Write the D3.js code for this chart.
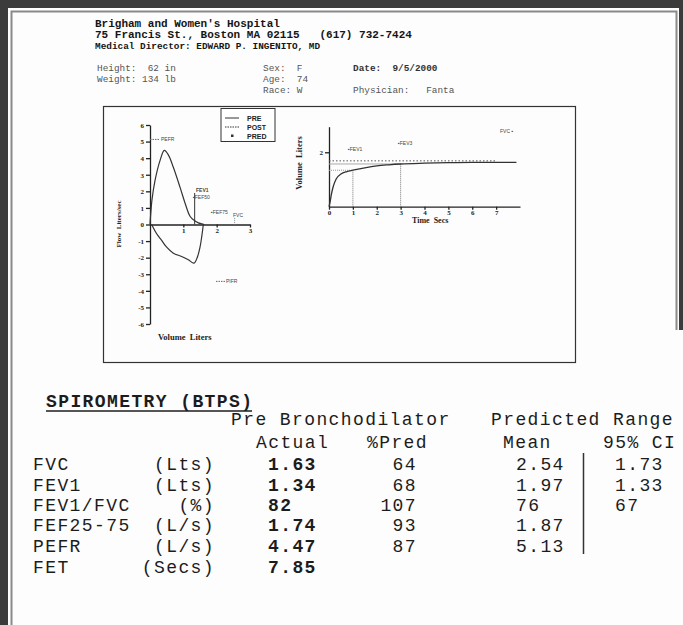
<!DOCTYPE html>
<html>
<head>
<meta charset="utf-8">
<script src="https://cdn.jsdelivr.net/npm/d3@7"></script>
<style>
  body { margin: 0; background: #3b3b3b; }
  svg { display: block; }
</style>
</head>
<body>
<svg id="page" width="683" height="625"></svg>
<script>
// report header
var headerLines = [
  "Brigham and Women's Hospital",
  "75 Francis St., Boston MA 02115   (617) 732-7424",
  "Medical Director: EDWARD P. INGENITO, MD"
];
var infoLeft = ["Height:  62 in", "Weight: 134 lb"];
var infoMid = ["Sex:  F", "Age:  74", "Race: W"];

// flow-volume loop (PRE), volume in liters, flow in L/s
var expVol  = [0, 0.02, 0.06, 0.15, 0.3, 0.43, 0.55, 0.7, 0.9, 1.05, 1.2, 1.34, 1.45, 1.55, 1.63];
var expFlow = [0, 0.6, 1.5, 2.65, 3.85, 4.47, 4.2, 3.45, 2.25, 1.3, 0.5, 0.22, 0.1, 0.04, 0];
var inspVol  = [0.05, 0.2, 0.35, 0.5, 0.7, 0.95, 1.15, 1.32, 1.42, 1.5, 1.55, 1.6];
var inspFlow = [0, -0.56, -0.96, -1.37, -1.73, -1.93, -2.13, -2.33, -1.97, -1.37, -0.76, 0];
var fvYTicks = [-6, -5, -4, -3, -2, -1, 0, 1, 2, 3, 4, 5, 6];
var fvXTicks = [1, 2, 3];

// volume-time curve (PRE)
var vtTime = [0, 0.05, 0.1, 0.18, 0.3, 0.5, 0.75, 1, 1.5, 2, 2.5, 3, 4, 5, 6, 7, 7.85];
var vtVol  = [0, 0.2, 0.45, 0.75, 1.02, 1.2, 1.29, 1.34, 1.43, 1.5, 1.54, 1.57, 1.6, 1.62, 1.63, 1.63, 1.63];
var vtXTicks = [0, 1, 2, 3, 4, 5, 6, 7];
var vtYTicks = [2];

// spirometry table
var rowNames = ["FVC", "FEV1", "FEV1/FVC", "FEF25-75", "PEFR", "FET"];
var rowUnits = ["(Lts)", "(Lts)", "(%)", "(L/s)", "(L/s)", "(Secs)"];
var actual   = ["1.63", "1.34", "82", "1.74", "4.47", "7.85"];
var pctPred  = ["64", "68", "107", "93", "87", ""];
var predMean = ["2.54", "1.97", "76", "1.87", "5.13", ""];
var ci95     = ["1.73", "1.33", "67", "", "", ""];

var FVC = 1.63, FEV1 = 1.34, FEV3 = 1.57;
var predPEFR = 5.13, predPIFR = -3.43, predFVC = 2.54;

var svg = d3.select('#page');
var mono = "'Liberation Mono', 'Courier New', monospace";
var serif = "'Liberation Serif', 'Times New Roman', serif";

// page
svg.append('rect').attr('x', 8).attr('y', 8).attr('width', 700).attr('height', 640).attr('fill', '#fdfdfd');
svg.append('path')
  .attr('d', 'M11.5,640 V11.5 H676.5 V330')
  .attr('fill', 'none').attr('stroke', '#8a8a8a').attr('stroke-width', 2);
svg.append('rect').attr('x', 679).attr('y', 0).attr('width', 4).attr('height', 330).attr('fill', '#3b3b3b');

// header
svg.selectAll('.hdr').data(headerLines).enter().append('text')
  .attr('x', 95)
  .attr('y', (d, i) => [27, 38, 48.5][i])
  .attr('font-family', mono).attr('font-weight', 'bold')
  .attr('font-size', (d, i) => i < 2 ? '11px' : '9.4px')
  .attr('fill', '#151515')
  .attr('xml:space', 'preserve')
  .text(d => d);

svg.selectAll('.infoL').data(infoLeft).enter().append('text')
  .attr('x', 97).attr('y', (d, i) => 71 + i * 11)
  .attr('font-family', mono).attr('font-size', '9.4px').attr('fill', '#555')
  .attr('xml:space', 'preserve').text(d => d);
svg.selectAll('.infoM').data(infoMid).enter().append('text')
  .attr('x', 263).attr('y', (d, i) => 71 + i * 11)
  .attr('font-family', mono).attr('font-size', '9.4px').attr('fill', '#555')
  .attr('xml:space', 'preserve').text(d => d);
svg.append('text').attr('x', 353).attr('y', 71)
  .attr('font-family', mono).attr('font-size', '9.4px').attr('font-weight', 'bold').attr('fill', '#333')
  .attr('xml:space', 'preserve').text('Date:  9/5/2000');
svg.append('text').attr('x', 353).attr('y', 93)
  .attr('font-family', mono).attr('font-size', '9.4px').attr('fill', '#555')
  .attr('xml:space', 'preserve').text('Physician:   Fanta');

// graph box
svg.append('rect').attr('x', 103.5).attr('y', 106.5).attr('width', 472).attr('height', 256)
  .attr('fill', 'none').attr('stroke', '#333').attr('stroke-width', 1.2);

function styleAxis(g) {
  g.selectAll('text').attr('font-family', serif).attr('font-weight', 'bold')
    .attr('font-size', '7px').attr('fill', '#222');
  g.selectAll('line, path').attr('stroke', '#222').attr('stroke-width', 1.3);
}

/* Flow-volume loop */
var fvX = d3.scaleLinear().domain([0, 3]).range([150, 250]);
var fvY = d3.scaleLinear().domain([-6, 6]).range([324, 125]);

var fvxAxis = d3.axisBottom(fvX).tickValues(fvXTicks).tickSizeInner(3).tickSizeOuter(0).tickPadding(1)
  .tickFormat(d => String(d));
var fvyAxis = d3.axisLeft(fvY).tickValues(fvYTicks).tickSizeInner(4).tickSizeOuter(0).tickPadding(2)
  .tickFormat(d => String(d));

svg.append('g').attr('transform', 'translate(150,0)').call(fvyAxis).call(styleAxis);
svg.append('g').attr('transform', 'translate(0,' + fvY(0) + ')').call(fvxAxis).call(styleAxis);

var fvLine = d3.line().x(d => fvX(d[0])).y(d => fvY(d[1])).curve(d3.curveCatmullRom);
svg.append('path').datum(d3.zip(expVol, expFlow)).attr('d', fvLine)
  .attr('fill', 'none').attr('stroke', '#333').attr('stroke-width', 1.2);
svg.append('path').datum(d3.zip(inspVol, inspFlow)).attr('d', fvLine)
  .attr('fill', 'none').attr('stroke', '#333').attr('stroke-width', 1.2);

// FEV1 marker on the loop
svg.append('line').attr('x1', fvX(FEV1)).attr('x2', fvX(FEV1))
  .attr('y1', fvY(0)).attr('y2', fvY(1.9)).attr('stroke', '#333').attr('stroke-width', 1);

// predicted marks
var tiny = function(sel) {
  return sel.attr('font-family', "'Liberation Sans', Arial, sans-serif")
    .attr('font-size', '5px').attr('fill', '#444');
};
svg.append('line').attr('x1', 150).attr('x2', 160).attr('y1', fvY(predPEFR)).attr('y2', fvY(predPEFR))
  .attr('stroke', '#666').attr('stroke-dasharray', '1.5,1');
svg.append('text').attr('x', 161).attr('y', fvY(predPEFR) + 2).text('PEFR').call(tiny);
svg.append('line').attr('x1', 216).attr('x2', 225).attr('y1', fvY(predPIFR)).attr('y2', fvY(predPIFR))
  .attr('stroke', '#666').attr('stroke-dasharray', '1.5,1');
svg.append('text').attr('x', 226).attr('y', fvY(predPIFR) + 2).text('PIFR').call(tiny);
svg.append('text').attr('x', 196).attr('y', fvY(1.95)).attr('font-weight', 'bold').text('FEV1').call(tiny);
svg.append('text').attr('x', 193).attr('y', fvY(1.55)).text('\u25AAFEF50').call(tiny);
svg.append('text').attr('x', 211).attr('y', fvY(0.62)).text('\u25AAFEF75').call(tiny);
svg.append('text').attr('x', 233).attr('y', fvY(0.45)).text('FVC').call(tiny);
svg.append('line').attr('x1', fvX(predFVC)).attr('x2', fvX(predFVC))
  .attr('y1', fvY(0.4)).attr('y2', fvY(0)).attr('stroke', '#888').attr('stroke-dasharray', '1,1');

svg.append('text').attr('transform', 'translate(121,224) rotate(-90)')
  .attr('text-anchor', 'middle').attr('font-family', serif).attr('font-weight', 'bold')
  .attr('font-size', '7px').attr('fill', '#222').attr('xml:space', 'preserve')
  .text('Flow  Liters/sec');
svg.append('text').attr('x', 158).attr('y', 340)
  .attr('font-family', serif).attr('font-weight', 'bold').attr('font-size', '8.5px')
  .attr('fill', '#222').attr('xml:space', 'preserve').text('Volume  Liters');

// legend
var legendNames = ['PRE', 'POST', 'PRED'];
svg.append('rect').attr('x', 221).attr('y', 108.5).attr('width', 54).attr('height', 33)
  .attr('fill', '#fff').attr('stroke', '#333').attr('stroke-width', 1);
var lg = svg.selectAll('.lg').data(legendNames).enter().append('g')
  .attr('transform', (d, i) => 'translate(0,' + (118 + i * 9) + ')');
lg.filter((d, i) => i < 2).append('line').attr('x1', 225).attr('x2', 239)
  .attr('stroke', '#333').attr('stroke-width', 1)
  .attr('stroke-dasharray', (d, i) => i === 1 ? '1.5,1' : null);
lg.filter((d, i) => i === 2).append('rect').attr('x', 231).attr('y', -1.5).attr('width', 2.5).attr('height', 2.5)
  .attr('fill', '#333');
lg.append('text').attr('x', 247).attr('y', 2.5).text(d => d)
  .attr('font-family', "'Liberation Sans', Arial, sans-serif").attr('font-weight', 'bold')
  .attr('font-size', '7px').attr('fill', '#222');

/* Volume-time curve */
var vtX = d3.scaleLinear().domain([0, 8]).range([329, 520]);
var vtY = d3.scaleLinear().domain([0, 2.94]).range([206.7, 126.7]);

var vtxAxis = d3.axisBottom(vtX).tickValues(vtXTicks).tickSizeInner(3).tickSizeOuter(0).tickPadding(0)
  .tickFormat(d => String(d));
var vtyAxis = d3.axisLeft(vtY).tickValues(vtYTicks).tickSizeInner(4).tickSizeOuter(0).tickPadding(2)
  .tickFormat(d => String(d));
svg.append('g').attr('transform', 'translate(329,0)').call(vtyAxis).call(styleAxis);
svg.append('g').attr('transform', 'translate(0,206.7)').call(vtxAxis).call(styleAxis);

// reference lines for FEV1, FEV3 and FVC
svg.append('line').attr('x1', vtX(0)).attr('x2', vtX(7)).attr('y1', vtY(FVC) - 1.5).attr('y2', vtY(FVC) - 1.5)
  .attr('stroke', '#555').attr('stroke-dasharray', '1.5,2');
svg.append('line').attr('x1', vtX(0)).attr('x2', vtX(3)).attr('y1', vtY(FEV3)).attr('y2', vtY(FEV3))
  .attr('stroke', '#aaa').attr('stroke-width', 1);
svg.append('line').attr('x1', vtX(0)).attr('x2', vtX(1)).attr('y1', vtY(FEV1)).attr('y2', vtY(FEV1))
  .attr('stroke', '#999').attr('stroke-dasharray', '1,1');
svg.append('line').attr('x1', vtX(1)).attr('x2', vtX(1)).attr('y1', vtY(0)).attr('y2', vtY(FEV1))
  .attr('stroke', '#777').attr('stroke-dasharray', '1,1');
svg.append('line').attr('x1', vtX(3)).attr('x2', vtX(3)).attr('y1', vtY(0)).attr('y2', vtY(FEV3) - 1)
  .attr('stroke', '#777').attr('stroke-dasharray', '1,1');

var vtLine = d3.line().x(d => vtX(d[0])).y(d => vtY(d[1])).curve(d3.curveMonotoneX);
svg.append('path').datum(d3.zip(vtTime, vtVol)).attr('d', vtLine)
  .attr('fill', 'none').attr('stroke', '#333').attr('stroke-width', 1.3);

svg.append('text').attr('x', 348).attr('y', vtY(2.06)).text('\u25AAFEV1').call(tiny);
svg.append('text').attr('x', 398).attr('y', vtY(2.27)).text('\u25AAFEV3').call(tiny);
svg.append('text').attr('x', 500).attr('y', vtY(2.7)).text('FVC \u25AA').call(tiny);

svg.append('text').attr('transform', 'translate(302,163) rotate(-90)')
  .attr('text-anchor', 'middle').attr('font-family', serif).attr('font-weight', 'bold')
  .attr('font-size', '8.5px').attr('fill', '#222').attr('xml:space', 'preserve')
  .text('Volume  Liters');
svg.append('text').attr('x', 412).attr('y', 223)
  .attr('font-family', serif).attr('font-weight', 'bold').attr('font-size', '8px')
  .attr('fill', '#222').attr('xml:space', 'preserve').text('Time  Secs');

/* Spirometry table */
var tcol = '#1c1c1c';
var rowY = [470, 490.5, 510.5, 531, 551.5, 572.5];

function tText(x, y, s, anchor, bold) {
  return svg.append('text').attr('x', x).attr('y', y)
    .attr('text-anchor', anchor || 'start')
    .attr('font-family', mono).attr('font-size', '18px')
    .attr('letter-spacing', '1.4px')
    .attr('font-weight', bold ? 'bold' : 'normal')
    .attr('fill', tcol).attr('xml:space', 'preserve').text(s);
}

tText(46, 407, 'SPIROMETRY (BTPS)', 'start', true);
svg.append('line').attr('x1', 46).attr('x2', 252).attr('y1', 411).attr('y2', 411)
  .attr('stroke', tcol).attr('stroke-width', 1.5);
tText(231, 425, 'Pre Bronchodilator');
tText(256, 448, 'Actual');
tText(367, 448, '%Pred');
tText(491, 425, 'Predicted Range');
tText(503, 448, 'Mean');
tText(603, 448, '95% CI');

rowNames.forEach((name, i) => {
  tText(33, rowY[i], name);
  tText(215, rowY[i], rowUnits[i], 'end');
  tText(268, rowY[i], actual[i], 'start', true);
  if (pctPred[i]) tText(417, rowY[i], pctPred[i], 'end');
  if (predMean[i]) tText(516, rowY[i], predMean[i]);
  if (ci95[i]) tText(615, rowY[i], ci95[i]);
});

svg.append('line').attr('x1', 583.5).attr('x2', 583.5).attr('y1', 453).attr('y2', 554)
  .attr('stroke', '#333').attr('stroke-width', 1.5);
</script>
</body>
</html>
